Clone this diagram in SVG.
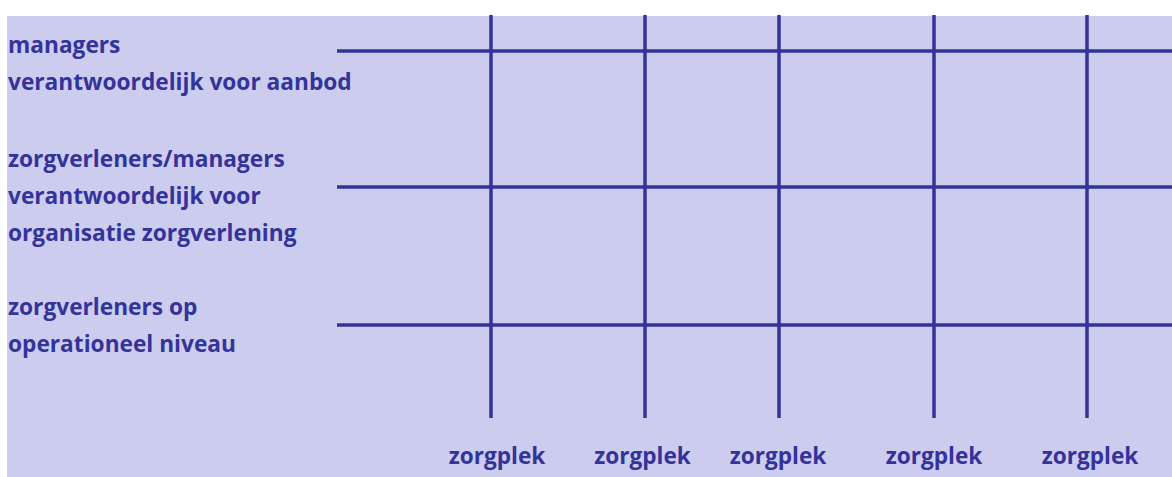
<svg xmlns="http://www.w3.org/2000/svg" width="1172" height="477" viewBox="0 0 1172 477">
<style>
.t{font-family:"Open Sans","DejaVu Sans",sans-serif;font-weight:bold;font-size:22.7px;fill:#333399}
.z{text-anchor:middle;font-size:22.6px}
.l{stroke:#333399;stroke-width:3.5;fill:none}
</style>
<rect x="0" y="0" width="1172" height="477" fill="#ffffff"/>
<rect x="7" y="16" width="1165" height="461" fill="#ccccee"/>
<g id="grid">
<line class="l" x1="337" y1="51" x2="1172" y2="51"/>
<line class="l" x1="337" y1="187" x2="1172" y2="187"/>
<line class="l" x1="337" y1="325" x2="1172" y2="325"/>
<line class="l" x1="491" y1="15" x2="491" y2="418"/>
<line class="l" x1="645" y1="15" x2="645" y2="418"/>
<line class="l" x1="779" y1="15" x2="779" y2="418"/>
<line class="l" x1="934" y1="15" x2="934" y2="418"/>
<line class="l" x1="1087" y1="15" x2="1087" y2="418"/>
</g>
<g id="level1"><text class="t" x="8" y="53">managers</text><text class="t" x="8" y="90">verantwoordelijk voor aanbod</text></g>
<g id="level2"><text class="t" x="8" y="167">zorgverleners/managers</text><text class="t" x="8" y="204">verantwoordelijk voor</text><text class="t" x="8" y="241">organisatie zorgverlening</text></g>
<g id="level3"><text class="t" x="8" y="315">zorgverleners op</text><text class="t" x="8" y="352">operationeel niveau</text></g>
<g id="zorgplek1"><text class="t z" x="497" y="464">zorgplek</text></g>
<g id="zorgplek2"><text class="t z" x="642.5" y="464">zorgplek</text></g>
<g id="zorgplek3"><text class="t z" x="778" y="464">zorgplek</text></g>
<g id="zorgplek4"><text class="t z" x="934" y="464">zorgplek</text></g>
<g id="zorgplek5"><text class="t z" x="1090" y="464">zorgplek</text></g>
</svg>
